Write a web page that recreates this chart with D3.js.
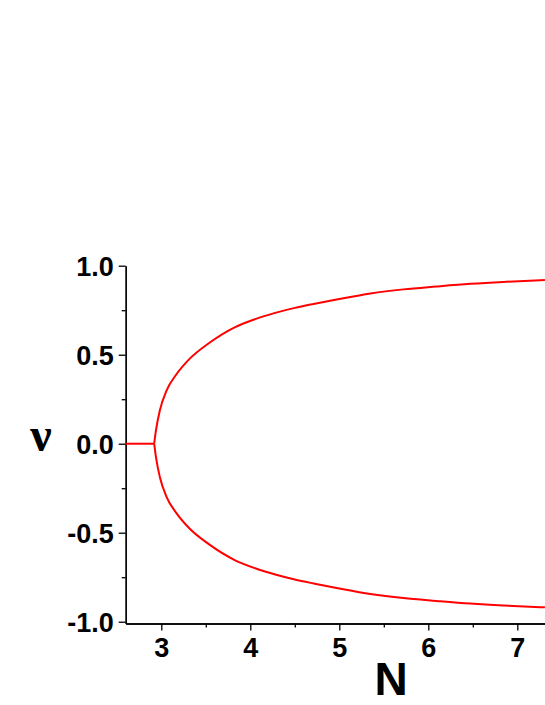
<!DOCTYPE html>
<html>
    <head>
        <title></title>
        <style>
            body { margin: 0; background: #fff; }
            .axis text { font-family: "Liberation Sans", Arial, sans-serif; font-weight: bold; font-size: 27px; fill: #000; }
            .axis path, .axis line { stroke: #000; stroke-width: 1.3px; }
        </style>
    </head>
    <body>
        <script src="https://cdnjs.cloudflare.com/ajax/libs/d3/7.8.5/d3.min.js"></script>
        <script>

        var w = 545;
        var h = 705;

        // values
        var flatN = [2.6, 2.92];
        var flatNu = [0, 0];
        var branchN = [2.92, 2.94, 2.985, 3.06, 3.17, 3.32, 3.53, 3.83, 4.055, 4.28, 4.5, 4.71, 4.97, 5.35, 5.72, 6.09, 6.47, 6.84, 7.31];
        var nuUpper = [0, 0.075, 0.19, 0.30, 0.39, 0.478, 0.563, 0.655, 0.700, 0.735, 0.763, 0.785, 0.810, 0.844, 0.867, 0.883, 0.898, 0.909, 0.919];
        var nuLower = [0, -0.075, -0.19, -0.30, -0.39, -0.478, -0.563, -0.655, -0.700, -0.735, -0.763, -0.785, -0.810, -0.844, -0.867, -0.883, -0.898, -0.909, -0.919];

        var xTicks = [3, 4, 5, 6, 7];
        var xMinor = [3.5, 4.5, 5.5, 6.5];
        var yTicks = [-1.0, -0.5, 0.0, 0.5, 1.0];
        var yTickLabels = ["-1.0", "-0.5", "0.0", "0.5", "1.0"];
        var yMinor = [-0.75, -0.25, 0.25, 0.75];

        var xScale = d3.scaleLinear()
                       .domain([2.6, 7.31])
                       .range([125.7, 544.9]);

        var yScale = d3.scaleLinear()
                       .domain([-1.01, 1.0])
                       .range([623.5, 265.7]);

        var svg = d3.select("body")
                    .append("svg")
                    .attr("width", w)
                    .attr("height", h);

        //minor ticks first, no labels
        svg.append("g")
            .attr("class", "axis")
            .attr("transform", "translate(0," + yScale.range()[0] + ")")
            .call(d3.axisBottom(xScale).tickValues(xMinor).tickSize(4).tickSizeOuter(0).tickFormat(""));

        svg.append("g")
            .attr("class", "axis")
            .attr("transform", "translate(" + xScale.range()[0] + ",0)")
            .call(d3.axisLeft(yScale).tickValues(yMinor).tickSize(4).tickSizeOuter(0).tickFormat(""));

        //major ticks with labels
        svg.append("g")
            .attr("class", "axis")
            .attr("transform", "translate(0," + yScale.range()[0] + ")")
            .call(d3.axisBottom(xScale).tickValues(xTicks).tickSize(7).tickSizeOuter(0).tickPadding(7).tickFormat(d3.format("d")));

        svg.append("g")
            .attr("class", "axis")
            .attr("transform", "translate(" + xScale.range()[0] + ",0)")
            .call(d3.axisLeft(yScale).tickValues(yTicks).tickSize(7).tickSizeOuter(0).tickPadding(5)
                .tickFormat(function(d, i) { return yTickLabels[i]; }))
            .selectAll("text")
            .attr("dy", "0.36em");

        var line = d3.line()
                     .curve(d3.curveMonotoneX)
                     .x(function(d) { return xScale(d[0]); })
                     .y(function(d) { return yScale(d[1]); });

        var curves = [
            d3.zip(flatN, flatNu),
            d3.zip(branchN, nuUpper),
            d3.zip(branchN, nuLower)
        ];

        svg.selectAll("path.curve")
            .data(curves)
            .enter()
            .append("path")
            .attr("class", "curve")
            .attr("d", line)
            .attr("fill", "none")
            .attr("stroke", "#ff0000")
            .attr("stroke-width", 2)
            .attr("stroke-linejoin", "round");

        //axis titles
        svg.append("text")
            .text("N")
            .attr("x", 391)
            .attr("y", 695)
            .attr("text-anchor", "middle")
            .attr("font-family", "Liberation Sans, Arial, sans-serif")
            .attr("font-weight", "bold")
            .attr("font-size", "46px");

        svg.append("text")
            .text("ν")
            .attr("x", 41)
            .attr("y", 451)
            .attr("text-anchor", "middle")
            .attr("font-family", "Liberation Serif, Times New Roman, serif")
            .attr("font-weight", "bold")
            .attr("font-size", "48px");

        </script>
    </body>
</html>
